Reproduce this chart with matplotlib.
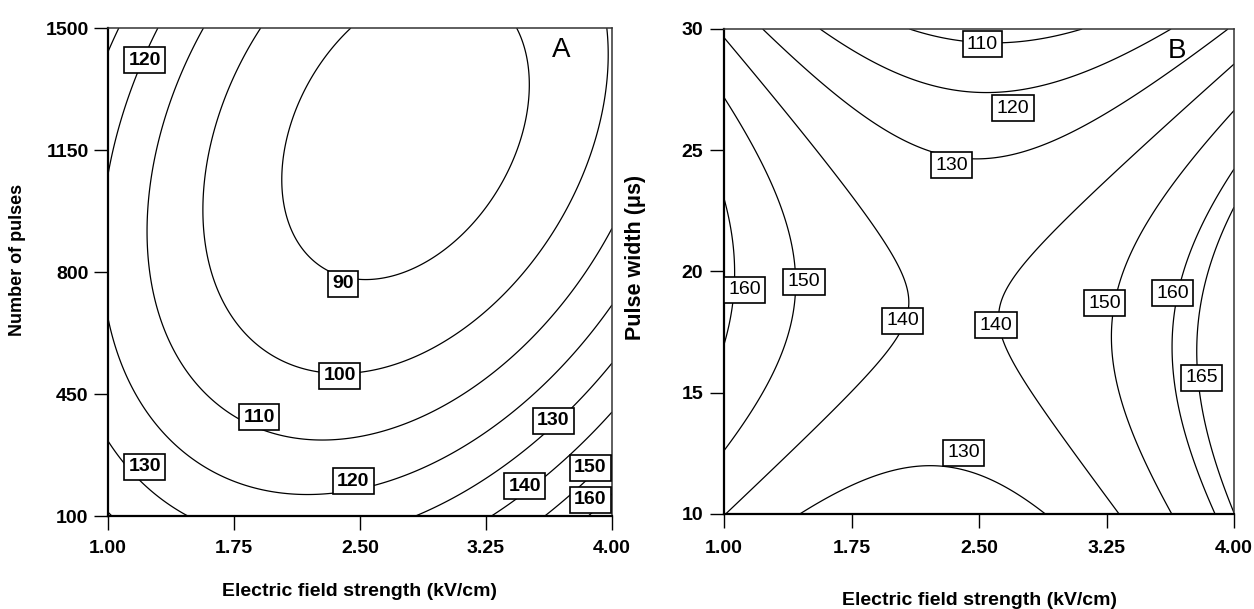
import numpy as np
import matplotlib.pyplot as plt

plt.rcParams['font.family'] = ['Liberation Sans', 'DejaVu Sans']

field_ticks = [1.00, 1.75, 2.50, 3.25, 4.00]
pulse_ticks = [100, 450, 800, 1150, 1500]
width_ticks = [10, 15, 20, 25, 30]

# panel A: points (field strength kV/cm, number of pulses)
a_levels = [90, 100, 110, 120, 130, 140, 150, 160]
a_90 = [(2.45, 1500), (2.14, 1293), (2.04, 1073), (2.13, 900), (2.32, 806), (2.48, 780),
        (2.94, 826), (3.21, 958), (3.41, 1150), (3.51, 1342), (3.44, 1500)]
a_100 = [(1.92, 1500), (1.66, 1236), (1.57, 969), (1.67, 700), (1.85, 585), (2.07, 527),
         (2.38, 502), (2.51, 510), (2.98, 596), (3.33, 720), (3.92, 1150), (3.97, 1500)]
a_110 = [(1.57, 1500), (1.33, 1236), (1.24, 900), (1.30, 662), (1.45, 510), (1.61, 413),
         (1.90, 370), (2.24, 312), (2.50, 309), (2.98, 413), (3.51, 634), (3.73, 720), (4.00, 926)]
a_120 = [(1.30, 1500), (1.15, 1342), (1.05, 1199), (1.00, 1073), (1.00, 671), (1.07, 510),
         (1.25, 375), (1.55, 261), (1.85, 195), (2.16, 152), (2.34, 155), (2.60, 209),
         (2.98, 255), (3.51, 447), (4.00, 705)]
a_130 = [(1.07, 1500), (1.00, 1431), (1.00, 327), (1.10, 269), (1.22, 218), (1.44, 103),
         (2.89, 100), (3.33, 261), (3.60, 361), (4.00, 533)]
a_140 = [(3.32, 100), (3.48, 186), (3.69, 275), (4.00, 390)]
a_150 = [(3.63, 100), (3.81, 175), (4.00, 266)]
a_160 = [(3.89, 100), (4.00, 169)]
a_label_pos = [(1.22, 1408), (2.40, 766), (2.38, 502), (1.90, 384), (1.22, 241), (2.46, 200),
               (3.65, 373), (3.48, 186), (3.87, 238), (3.87, 146)]

# panel B: points (field strength kV/cm, pulse width us)
b_levels = [110, 120, 130, 140, 150, 160, 165]
b_110 = [(2.07, 30.0), (2.33, 29.55), (2.54, 29.42), (2.80, 29.55), (3.09, 30.0)]
b_120 = [(1.55, 30.0), (1.74, 29.05), (2.04, 28.10), (2.27, 27.48), (2.52, 27.24),
         (2.70, 27.40), (2.92, 27.90), (3.27, 28.64), (3.62, 30.0)]
b_130 = [(1.22, 30.0), (1.51, 28.72), (1.74, 26.66), (2.04, 25.30), (2.22, 24.89), (2.49, 24.47),
         (2.72, 24.68), (3.02, 25.40), (3.27, 26.54), (3.62, 28.31), (3.96, 30.0),
         (1.45, 10.0), (1.76, 11.32), (2.09, 11.90), (2.24, 11.90), (2.45, 11.81),
         (2.67, 10.99), (2.88, 10.04)]
b_140 = [(1.00, 29.55), (1.33, 27.48), (1.57, 25.01), (1.74, 22.95), (2.05, 19.65), (2.09, 18.95),
         (2.08, 18.0), (1.98, 16.76), (1.76, 14.99), (1.37, 12.64), (1.00, 10.0),
         (4.00, 28.43), (3.74, 27.07), (3.39, 25.01), (2.99, 22.25), (2.78, 20.47), (2.61, 18.70),
         (2.61, 17.18), (2.76, 15.24), (2.99, 13.05), (3.27, 10.58), (3.31, 10.0)]
b_150 = [(1.00, 26.95), (1.27, 23.77), (1.41, 20.47), (1.41, 18.82), (1.33, 16.06), (1.17, 14.0),
         (1.00, 12.56),
         (4.00, 26.54), (3.62, 23.48), (3.43, 21.59), (3.30, 19.65), (3.27, 18.0), (3.32, 15.94),
         (3.42, 13.88), (3.55, 11.81), (3.62, 10.0)]
b_160 = [(1.00, 22.45), (1.06, 19.94), (1.05, 18.82), (1.00, 17.09),
         (4.00, 24.06), (3.78, 21.59), (3.68, 19.77), (3.64, 18.0), (3.65, 15.53), (3.71, 13.46),
         (3.84, 10.99), (3.88, 10.0)]
b_165 = [(4.00, 22.45), (3.88, 20.89), (3.80, 18.82), (3.80, 15.53), (3.83, 13.88), (3.90, 11.40),
         (4.00, 10.0)]
b_label_pos = [(2.52, 29.38), (2.70, 26.74), (2.34, 24.39), (1.12, 19.24), (1.47, 19.57),
               (2.05, 17.96), (2.60, 17.79), (2.41, 12.52), (3.24, 18.7), (3.64, 19.11),
               (3.81, 15.61)]


def fit_surface(traces, levels, yc, ys, deg):
    # least squares response surface through the traced contour points
    x, y, z = [], [], []
    for lev, pts in zip(levels, traces):
        for px, py in pts:
            x.append(px); y.append(py); z.append(lev)
    u = (np.array(x) - 2.5) / 1.5
    v = (np.array(y) - yc) / ys
    terms = [(i, j) for i in range(deg + 1) for j in range(deg + 1 - i)]
    A = np.column_stack([u**i * v**j for i, j in terms])
    coef = np.linalg.lstsq(A, np.array(z, float), rcond=None)[0]

    def f(X, Y):
        U = (X - 2.5) / 1.5
        V = (Y - yc) / ys
        return sum(c * U**i * V**j for c, (i, j) in zip(coef, terms))
    return f


def draw_panel(ax, f, ylim, levels, label_pos, yticks, letter, letter_pos, lab_weight):
    gx = np.linspace(1.0, 4.0, 300)
    gy = np.linspace(ylim[0], ylim[1], 300)
    X, Y = np.meshgrid(gx, gy)
    cs = ax.contour(X, Y, f(X, Y), levels=levels, colors='black', linewidths=0.9)
    texts = ax.clabel(cs, fmt='%d', inline=False, manual=label_pos, fontsize=14)
    for t, pos in zip(texts, label_pos):
        t.set_position(pos)
        t.set_rotation(0)
        t.set_fontweight(lab_weight)
        t.set_zorder(5)
        t.set_bbox(dict(boxstyle='square,pad=0.22', fc='white', ec='black', lw=1.2))
    ax.set_xlim(1.0, 4.0)
    ax.set_ylim(ylim)
    ax.set_xticks(field_ticks)
    ax.set_xticklabels(['%.2f' % v for v in field_ticks])
    ax.set_yticks(yticks)
    ax.tick_params(direction='out', length=10, width=1, labelsize=14, top=False, right=False)
    for lab in ax.get_xticklabels() + ax.get_yticklabels():
        lab.set_fontweight('bold')
    for s in ['left', 'bottom']:
        ax.spines[s].set_linewidth(1.6)
    for s in ['top', 'right']:
        ax.spines[s].set_linewidth(1.1)
        ax.spines[s].set_color('#333333')
    ax.text(letter_pos[0], letter_pos[1], letter, fontsize=20, ha='center', va='center')


fig = plt.figure(figsize=(12.54, 6.09), dpi=100)
axA = fig.add_axes([0.0861, 0.1527, 0.4019, 0.8013])
axB = fig.add_axes([0.5774, 0.1560, 0.4067, 0.7964])

fA = fit_surface([a_90, a_100, a_110, a_120, a_130, a_140, a_150, a_160], a_levels, 800, 700, 2)
fB = fit_surface([b_110, b_120, b_130, b_140, b_150, b_160, b_165], b_levels, 20, 10, 3)

draw_panel(axA, fA, (100, 1500), a_levels, a_label_pos, pulse_ticks, 'A', (3.70, 1437), 'bold')
draw_panel(axB, fB, (10, 30), b_levels, b_label_pos, width_ticks, 'B', (3.665, 29.1), 'normal')

axA.tick_params(axis='x', pad=7)
axA.tick_params(axis='y', pad=4)
axB.tick_params(axis='x', pad=9)
axB.tick_params(axis='y', pad=5)

axA.set_xlabel('Electric field strength (kV/cm)', fontsize=14, fontweight='bold', labelpad=19)
axA.set_ylabel('Number of pulses', fontsize=13, fontweight='bold')
axA.yaxis.set_label_coords(-0.163, 0.525)
axB.set_xlabel('Electric field strength (kV/cm)', fontsize=14, fontweight='bold', labelpad=25)
axB.set_ylabel('Pulse width (\u03bcs)', fontsize=15.5, fontweight='bold')
axB.yaxis.set_label_coords(-0.153, 0.528)

fig.savefig('out.png', dpi=100)
